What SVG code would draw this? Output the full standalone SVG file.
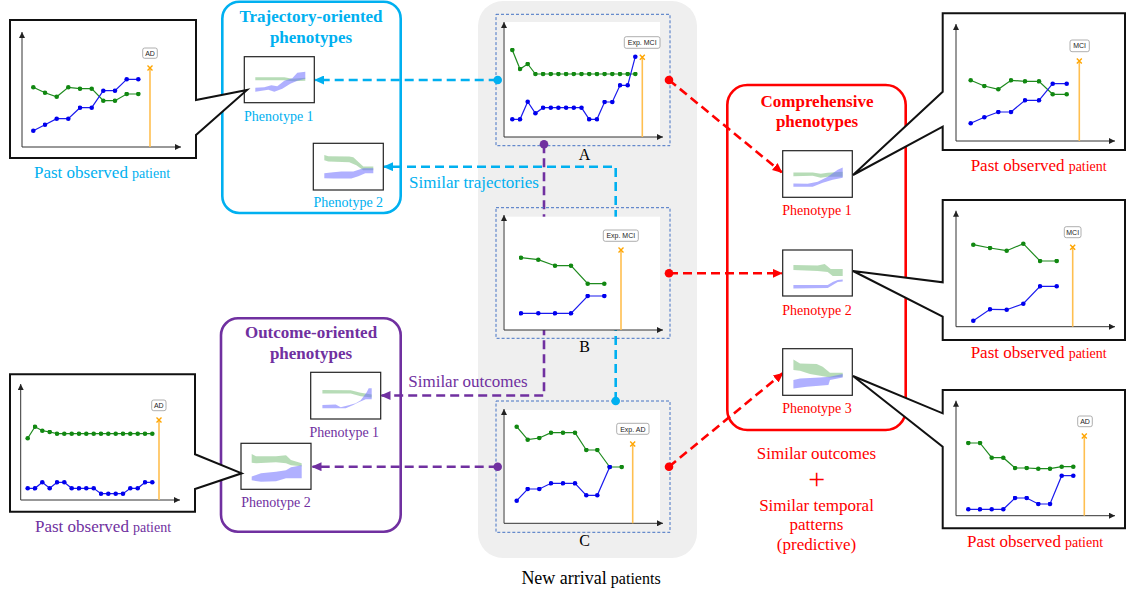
<svg xmlns="http://www.w3.org/2000/svg" width="1127" height="594" viewBox="0 0 1127 594" font-family="'Liberation Serif', 'Times New Roman', serif">
<defs>
<style>
.cb{fill:#fff;stroke:#111;stroke-width:2;stroke-linejoin:miter}
.ax{stroke:#333;stroke-width:1;fill:none;marker-end:url(#ah)}
.g{fill:none;stroke:#1e8a1e;stroke-width:1.2;marker-start:url(#dg);marker-mid:url(#dg);marker-end:url(#dg)}
.b{fill:none;stroke:#1a1aee;stroke-width:1.2;marker-start:url(#db);marker-mid:url(#db);marker-end:url(#db)}
.or{stroke:#ffbf50;stroke-width:1.6;marker-start:url(#xm)}
.lb{fill:#fff;stroke:#999;stroke-width:0.8}
.lt{font-family:"Liberation Sans",Arial,sans-serif;font-size:7px;fill:#222;text-anchor:middle}
.th{fill:#fff;stroke:#222;stroke-width:1.2}
.gb{fill:#7cc07c;fill-opacity:.55}
.bb{fill:#7070ff;fill-opacity:.55}
.s{font-family:"Liberation Serif","Times New Roman",serif;text-anchor:middle}
.t17{font-size:17px}
.t14{font-size:14px}
.bold{font-weight:bold}
.dc{fill:none;stroke-width:2.6;stroke-dasharray:9 5}
.cy{stroke:#00b0f0}
.pu{stroke:#7030a0}
.rd{stroke:#ff0000}
.fcy{fill:#00b0f0}
.fpu{fill:#7030a0}
.frd{fill:#ff0000}
.dbx{fill:none;stroke:#4472c4;stroke-width:1;stroke-dasharray:3 2}
.wh{fill:#fff}
</style>
<marker id="ah" viewBox="0 0 6 6" markerWidth="6" markerHeight="6" markerUnits="userSpaceOnUse" refX="6" refY="3" orient="auto"><path d="M0,0 L6,3 L0,6 Z" fill="#222"/></marker>
<marker id="dg" viewBox="0 0 5 5" markerWidth="5" markerHeight="5" markerUnits="userSpaceOnUse" refX="2.5" refY="2.5"><circle cx="2.5" cy="2.5" r="2.3" fill="#118811"/></marker>
<marker id="db" viewBox="0 0 5 5" markerWidth="5" markerHeight="5" markerUnits="userSpaceOnUse" refX="2.5" refY="2.5"><circle cx="2.5" cy="2.5" r="2.3" fill="#0000ee"/></marker>
<marker id="xm" viewBox="0 0 7 7" markerWidth="7" markerHeight="7" markerUnits="userSpaceOnUse" refX="3.5" refY="3.5"><path d="M1,1 L6,6 M1,6 L6,1" stroke="#ffa500" stroke-width="1.4"/></marker>
<marker id="mc" viewBox="0 0 10 9" markerWidth="10" markerHeight="9" markerUnits="userSpaceOnUse" refX="9" refY="4.5" orient="auto"><path d="M0,0 L10,4.5 L0,9 Z" fill="#00b0f0"/></marker>
<marker id="mp" viewBox="0 0 10 9" markerWidth="10" markerHeight="9" markerUnits="userSpaceOnUse" refX="9" refY="4.5" orient="auto"><path d="M0,0 L10,4.5 L0,9 Z" fill="#7030a0"/></marker>
<marker id="mr" viewBox="0 0 10 9" markerWidth="10" markerHeight="9" markerUnits="userSpaceOnUse" refX="9" refY="4.5" orient="auto"><path d="M0,0 L10,4.5 L0,9 Z" fill="#ff0000"/></marker>
</defs>

<rect x="0" y="0" width="1127" height="594" fill="#fff"/>

<!-- central panel -->
<g id="new-arrival-panel">
<rect x="478" y="1" width="219" height="557" rx="25" fill="#efefef"/>
<text class="s" x="591" y="584"><tspan font-size="18">New arrival</tspan> <tspan font-size="16">patients</tspan></text>
</g>

<!-- connectors -->
<g id="connectors">
<path class="dc cy" d="M497.7,80 H315" marker-end="url(#mc)"/>
<path class="dc cy" d="M615.7,401 V166.7 H384" marker-end="url(#mc)"/>
<path class="dc pu" d="M544,144.3 V395.5 H381.5" marker-end="url(#mp)"/>
<path class="dc pu" d="M497.7,466.7 H312.5" marker-end="url(#mp)"/>
<path class="dc rd" d="M669,80 L781.7,172.3" marker-end="url(#mr)"/>
<path class="dc rd" d="M669,273.3 H781.7" marker-end="url(#mr)"/>
<path class="dc rd" d="M669,466.7 L782.7,373.3" marker-end="url(#mr)"/>
<text class="s t17 fcy" x="474" y="188">Similar trajectories</text>
<text class="s t17 fpu" x="468" y="387">Similar outcomes</text>
</g>

<!-- patient A -->
<g id="patient-A">
<rect class="wh" x="503" y="22" width="157" height="115"/>
<rect class="dbx" x="496" y="14.3" width="174" height="131.4"/>
<path class="ax" d="M504,137 V22"/>
<path class="ax" d="M504,137 H663"/>
<line class="or" x1="642.3" y1="57.3" x2="642.3" y2="137"/>
<rect class="lb" x="624.3" y="36.7" width="35.7" height="11.6" rx="2"/>
<text class="lt" x="642.2" y="45">Exp. MCI</text>
<polyline class="g" points="512.3,50 520,69 527.7,64 535.4,74 543.1,74 550.8,74 558.4,74 566.1,74 573.8,74 581.5,74 589.2,74 596.9,74 604.6,74 612.3,74 620,74 627.7,74 635.3,74"/>
<polyline class="b" points="512.3,119.3 520,119.3 527.7,101.7 535.4,113.3 543.1,107.7 550.8,107.7 558.4,107.7 566.1,107.7 573.8,107.7 581.5,107.7 589.2,119.3 596.9,119.3 604.6,102 612.3,102 620,85.3 627.7,85.3 635.3,56.7"/>
<text class="s" x="584.5" y="160" font-size="16">A</text>
</g>

<!-- patient B -->
<g id="patient-B">
<rect class="wh" x="503" y="216.7" width="157" height="113.3"/>
<rect class="dbx" x="496" y="207.7" width="174" height="130.6"/>
<path class="ax" d="M504,330 V215"/>
<path class="ax" d="M504,330 H663"/>
<line class="or" x1="621" y1="250" x2="621" y2="330"/>
<rect class="lb" x="603.3" y="230" width="35" height="11.3" rx="2"/>
<text class="lt" x="620.8" y="238.3">Exp. MCI</text>
<polyline class="g" points="521,257.7 538.3,259.7 555,265.7 571,265.7 587.7,283.7 604.3,283.7"/>
<polyline class="b" points="521,313.3 538.3,313.3 555,313.3 571,313.3 587.7,296 604.3,296"/>
<text class="s" x="584.5" y="352" font-size="16">B</text>
</g>

<!-- patient C -->
<g id="patient-C">
<rect class="wh" x="503" y="410" width="157" height="113.3"/>
<rect class="dbx" x="496" y="401" width="174" height="131.3"/>
<path class="ax" d="M504,523.3 V409"/>
<path class="ax" d="M504,523.3 H663"/>
<line class="or" x1="632.7" y1="444" x2="632.7" y2="523.3"/>
<rect class="lb" x="616.7" y="423.3" width="32.3" height="11" rx="2"/>
<text class="lt" x="632.8" y="431.5">Exp. AD</text>
<polyline class="g" points="516.7,426.7 527.7,439.7 539.3,438 551,432.7 563,432.7 575,432.7 586.3,450 597.3,450 609.7,467 621.7,467"/>
<polyline class="b" points="516.7,500.7 527.7,489 539.3,489 551,483.3 563,483.3 575,483.3 586.3,495.3 597.3,495.3 609.7,467"/>
<text class="s" x="584.5" y="546" font-size="16">C</text>
</g>

<!-- connector end dots -->
<g id="connector-ends">
<circle cx="497.7" cy="80" r="4.3" fill="#00b0f0"/>
<circle cx="615.7" cy="401" r="4.3" fill="#00b0f0"/>
<circle cx="544" cy="144.3" r="4.3" fill="#7030a0"/>
<circle cx="497.7" cy="466.7" r="4.3" fill="#7030a0"/>
<circle cx="669" cy="80" r="4.3" fill="#ff0000"/>
<circle cx="669" cy="273.3" r="4.3" fill="#ff0000"/>
<circle cx="669" cy="466.7" r="4.3" fill="#ff0000"/>
</g>

<!-- trajectory-oriented group -->
<g id="trajectory-oriented">
<rect x="222.3" y="1.7" width="178.4" height="211.3" rx="17" fill="none" stroke="#00b0f0" stroke-width="2.6"/>
<text class="s bold t17 fcy" x="311" y="22">Trajectory-oriented</text>
<text class="s bold t17 fcy" x="311" y="43">phenotypes</text>
</g>
<g id="traj-phenotype-1" transform="translate(244.3,56.7)">
<rect class="th" x="0" y="0" width="70" height="46"/>
<polygon class="gb" points="11,20.5 40,20.5 48,22 61,21 61,24 48,24.5 40,23.5 11,23.5"/>
<polygon class="bb" points="11,31 20,30.5 27,28.5 33,29.5 40,24 48,21.5 53,16 61,15 61,22 53,24 46,27 38,32 30,35 24,33 11,35"/>
<text class="s t14 fcy" x="34.5" y="64">Phenotype 1</text>
</g>
<g id="traj-phenotype-2" transform="translate(313.3,143.3)">
<rect class="th" x="0" y="0" width="70" height="46.7"/>
<polygon class="gb" points="11,11.7 15,13 36,13.3 40,14 50,23.3 60,23.3 60,27 50,27 43,22 36,19 15,18.3 11,17"/>
<polygon class="bb" points="11,30 20,29 28,28.3 40,28.3 50,25 60,25 60,30 52,30 45,33 38,35.3 20,35.3 11,35"/>
<text class="s t14 fcy" x="35" y="63.4">Phenotype 2</text>
</g>

<!-- outcome-oriented group -->
<g id="outcome-oriented">
<rect x="221" y="318.3" width="179.7" height="213.4" rx="17" fill="none" stroke="#7030a0" stroke-width="2.6"/>
<text class="s bold t17 fpu" x="311" y="338.3">Outcome-oriented</text>
<text class="s bold t17 fpu" x="311" y="359.3">phenotypes</text>
</g>
<g id="out-phenotype-1" transform="translate(310.7,372.3)">
<rect class="th" x="0" y="0" width="70" height="46.7"/>
<polygon class="gb" points="11.7,17.7 40,18 50,20.5 61,22.3 61,25.3 50,24 40,21.3 11.7,21.3"/>
<polygon class="bb" points="11.7,32.7 25,32.3 30,35 38,33 45,31 50,28 56,20 58,16 61,16 61,27 55,27 48,30 42,33 35,36 11.7,36"/>
<text class="s t14 fpu" x="33.6" y="65">Phenotype 1</text>
</g>
<g id="out-phenotype-2" transform="translate(241,443.3)">
<rect class="th" x="0" y="0" width="70" height="46"/>
<polygon class="gb" points="10.7,10.7 15,13 35,13 45,12 50,16.7 60.7,20 60.7,23 50,22 45,20 35,19 15,20 10.7,19.5"/>
<polygon class="bb" points="10.7,33.3 20,30 35,28.5 45,27 50,24 60.7,22 60.7,35 45,35 35,38 20,38.5 10.7,37"/>
<text class="s t14 fpu" x="35" y="63.4">Phenotype 2</text>
</g>

<!-- comprehensive group -->
<g id="comprehensive">
<rect x="727.3" y="85" width="178.4" height="345" rx="20" fill="none" stroke="#ff0000" stroke-width="2.6"/>
<text class="s bold t17 frd" x="817" y="106.7">Comprehensive</text>
<text class="s bold t17 frd" x="817" y="127.3">phenotypes</text>
<text class="s t17 frd" x="816.5" y="459.3">Similar outcomes</text>
<text class="s frd" x="816.7" y="489" font-size="30">+</text>
<text class="s t17 frd" x="816.5" y="511">Similar temporal</text>
<text class="s t17 frd" x="816.5" y="530">patterns</text>
<text class="s t17 frd" x="816.5" y="549.5">(predictive)</text>
</g>
<g id="comp-phenotype-1" transform="translate(782.7,150.7)">
<rect class="th" x="0" y="0" width="69.6" height="46.6"/>
<polygon class="gb" points="10.7,21.7 30,21.7 38,23 45,22 60,21 60,26 45,26 38,27 30,25 10.7,25.5"/>
<polygon class="bb" points="10.7,32.7 25,33 35,31 45,26 55,19 60,16.7 60,27 50,29 40,32 30,36 20,36 10.7,36"/>
<text class="s t14 frd" x="34.3" y="64.3">Phenotype 1</text>
</g>
<g id="comp-phenotype-2" transform="translate(782.7,250)">
<rect class="th" x="0" y="0" width="69.6" height="46"/>
<polygon class="gb" points="10.7,15 35,15.5 42,14 48,19 60,19 60,26 50,26 45,22 35,21 10.7,20"/>
<polygon class="bb" points="10.7,35 45,35 50,32 55,30 60,29.5 60,31.5 55,32 50,35 45,38 10.7,38.5"/>
<text class="s t14 frd" x="34.3" y="65">Phenotype 2</text>
</g>
<g id="comp-phenotype-3" transform="translate(782.7,348.7)">
<rect class="th" x="0" y="0" width="69.6" height="46.6"/>
<polygon class="gb" points="10.7,10.7 17.3,14.7 34,15.3 40,18 47.3,24 60,24 60,28 47.3,28.7 39,27.3 27.3,25.3 17.3,22 10.7,21.3"/>
<polygon class="bb" points="10.7,31.3 17.3,29.7 37.3,28.7 47.3,28 60,25.3 60,28.7 47.3,31.3 45.7,36.3 24,38 10.7,39.7"/>
<text class="s t14 frd" x="34.3" y="64.6">Phenotype 3</text>
</g>

<!-- past patient: trajectory (top-left) -->
<g id="past-traj">
<path class="cb" d="M10,20 H196 V100 L247,90 L196,135 V158 H10 Z"/>
<path class="ax" d="M22,147 V32"/>
<path class="ax" d="M22,147 H181"/>
<line class="or" x1="150" y1="68" x2="150" y2="147"/>
<rect class="lb" x="142.7" y="48" width="14.6" height="10.3" rx="2"/>
<text class="lt" x="150" y="55.7" font-size="6.5">AD</text>
<polyline class="g" points="33.3,87.3 45,92.7 56.7,96.7 68.3,87.3 80,88.7 91.7,88.7 103.3,100.7 115,100.7 126.7,94 138.3,94"/>
<polyline class="b" points="33.3,130.7 45,124.7 56.7,118.7 68.3,118.7 80,107.7 91.7,107.7 103.3,90.7 115,90.7 126.7,79.3 138.3,79.3"/>
<text class="s fcy" x="102" y="178.3"><tspan font-size="17">Past observed</tspan> <tspan font-size="14">patient</tspan></text>
</g>

<!-- past patient: outcome (bottom-left) -->
<g id="past-outcome">
<path class="cb" d="M10,374.3 H195 V454.3 L241.7,473.3 L195,489 V511.7 H10 Z"/>
<path class="ax" d="M20.7,500 V384"/>
<path class="ax" d="M20.7,500 H180"/>
<line class="or" x1="159" y1="420" x2="159" y2="500"/>
<rect class="lb" x="151.7" y="400" width="14.3" height="10.7" rx="2"/>
<text class="lt" x="158.8" y="407.8" font-size="6.5">AD</text>
<polyline class="g" points="27.7,438.3 35,426.7 42.3,430.7 49.7,432 57,433.7 64.3,433.7 71.7,433.7 79,433.7 86.3,433.7 93.7,433.7 101,433.7 108.3,433.7 115.7,433.7 123,433.7 130.3,433.7 137.7,433.7 145,433.7 152.3,433.7"/>
<polyline class="b" points="27.7,488.3 35,488.3 42.3,482.3 49.7,488.3 57,482.3 64.3,482.3 71.7,488.3 79,488.3 86.3,488.3 93.7,488.3 101,493.7 108.3,493.7 115.7,493.7 123,493.7 130.3,488.3 137.7,488.3 145,482.3 152.3,482.3"/>
<text class="s fpu" x="103" y="531.7"><tspan font-size="17">Past observed</tspan> <tspan font-size="14">patient</tspan></text>
</g>

<!-- past patient: comprehensive 1 -->
<g id="past-comp-1">
<path class="cb" d="M942.7,13.3 H1125 V150 H942.7 V126.7 L853,175 L942.7,91.7 Z"/>
<path class="ax" d="M956,141 V24"/>
<path class="ax" d="M956,141 H1115"/>
<line class="or" x1="1079.3" y1="61" x2="1079.3" y2="141"/>
<rect class="lb" x="1070" y="40" width="19.3" height="11.7" rx="2"/>
<text class="lt" x="1079.6" y="48.3" font-size="6.5">MCI</text>
<polyline class="g" points="970.7,80.3 984.3,86 998.3,89.3 1011,80.3 1025,81.3 1039,81.3 1052.7,94.3 1066.7,94.3"/>
<polyline class="b" points="970.7,123.3 984.3,117.3 998.3,112 1011,112 1025,100.3 1039,100.3 1052.7,83.7 1066.7,83.7"/>
<text class="s frd" x="1038.7" y="170.7"><tspan font-size="17">Past observed</tspan> <tspan font-size="14">patient</tspan></text>
</g>

<!-- past patient: comprehensive 2 -->
<g id="past-comp-2">
<path class="cb" d="M942.7,200 H1125 V340 H942.7 V316.7 L853,271 L942.7,282.3 Z"/>
<path class="ax" d="M956,326.7 V210.7"/>
<path class="ax" d="M956,326.7 H1115"/>
<line class="or" x1="1072.7" y1="247.3" x2="1072.7" y2="326.7"/>
<rect class="lb" x="1064.3" y="226.7" width="16.7" height="11" rx="2"/>
<text class="lt" x="1072.7" y="234.7" font-size="6.5">MCI</text>
<polyline class="g" points="973.3,244.7 990,248 1006.7,250.7 1023.3,243.7 1040,261 1056.7,261"/>
<polyline class="b" points="973.3,320.7 990,309.3 1006.7,309.7 1023.3,303.7 1040,286.3 1056.7,286.3"/>
<text class="s frd" x="1038.7" y="358.3"><tspan font-size="17">Past observed</tspan> <tspan font-size="14">patient</tspan></text>
</g>

<!-- past patient: comprehensive 3 -->
<g id="past-comp-3">
<path class="cb" d="M942.7,390 H1125 V528.3 H942.7 V446.7 L853,376 L942.7,413.3 Z"/>
<path class="ax" d="M956,515.7 V400.7"/>
<path class="ax" d="M956,515.7 H1115"/>
<line class="or" x1="1084.3" y1="436" x2="1084.3" y2="515.7"/>
<rect class="lb" x="1077.7" y="416" width="14.6" height="10.7" rx="2"/>
<text class="lt" x="1085" y="423.8" font-size="6.5">AD</text>
<polyline class="g" points="968.3,443 980,443 991.7,457.7 1003.3,457.7 1015,468 1026.7,468 1038.3,468.7 1050,468.7 1061.7,466.7 1073.3,466.7"/>
<polyline class="b" points="968.3,509.3 980,509.3 991.7,509.3 1003.3,509.3 1015,498 1026.7,498 1038.3,504 1050,504 1061.7,475.7 1073.3,475.7"/>
<text class="s frd" x="1035" y="546.7"><tspan font-size="17">Past observed</tspan> <tspan font-size="14">patient</tspan></text>
</g>
</svg>
